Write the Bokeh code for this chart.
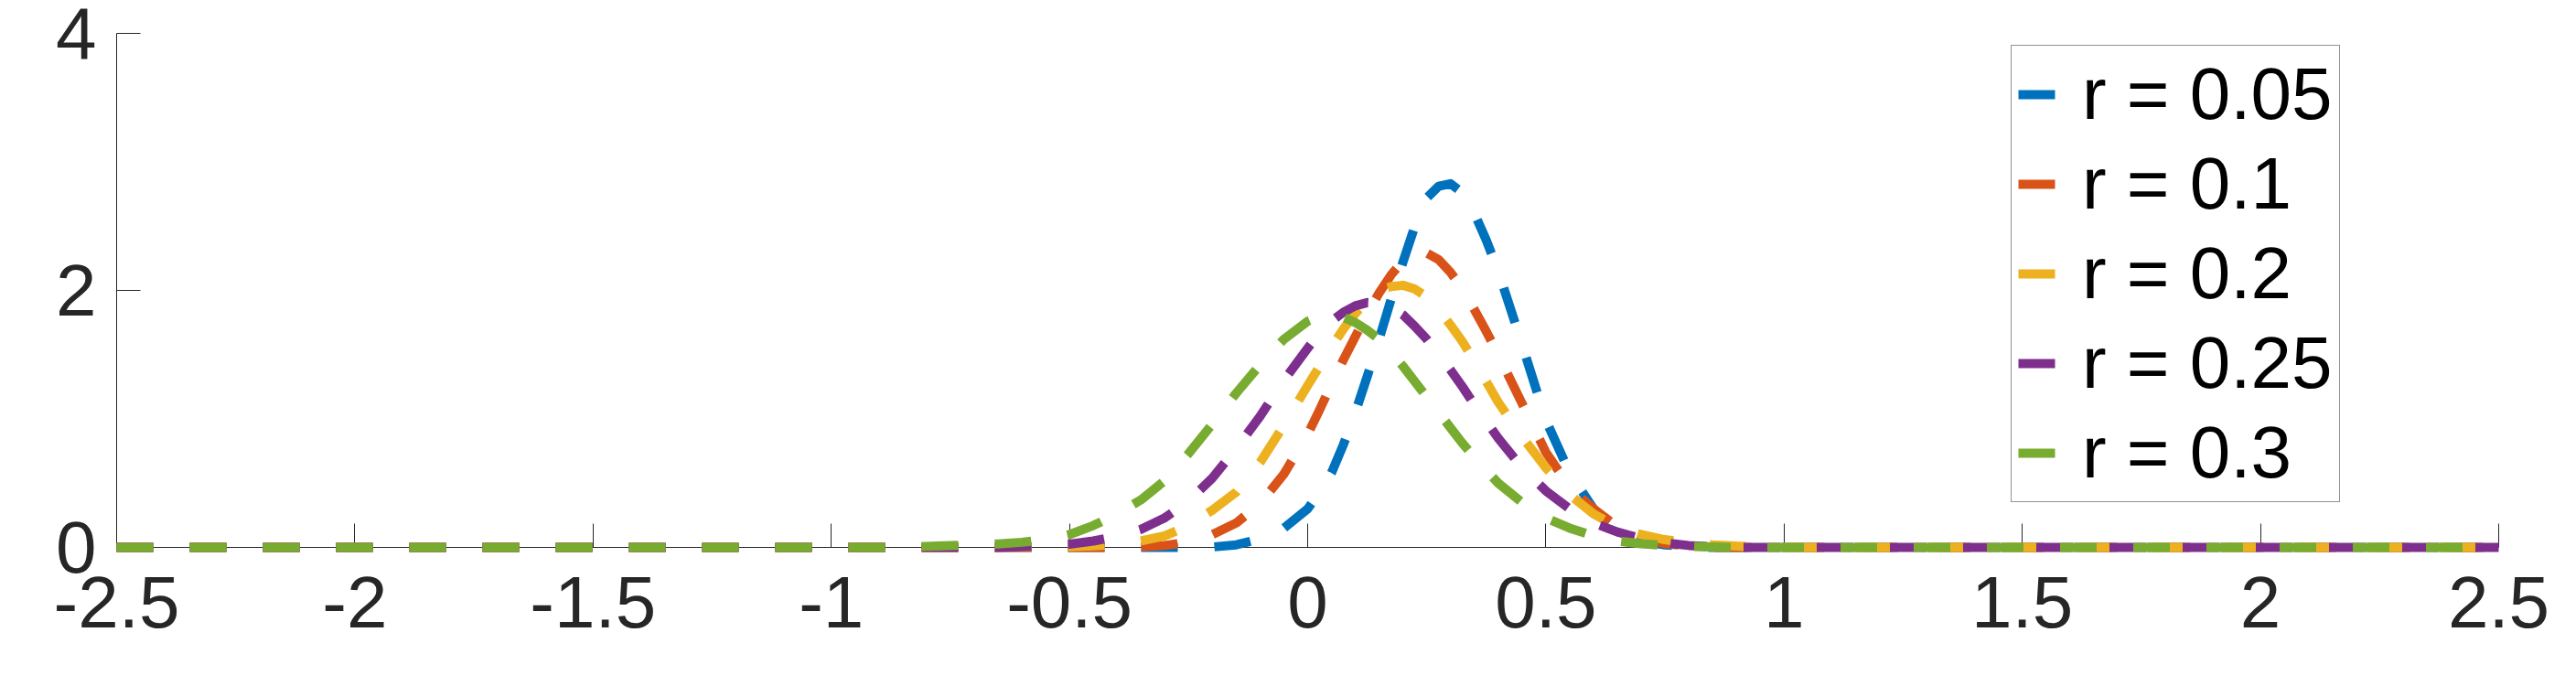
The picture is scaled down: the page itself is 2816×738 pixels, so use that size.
from bokeh.plotting import figure
from bokeh.models import Range1d, FixedTicker, Legend, LegendItem
from bokeh.embed import file_html
from bokeh.resources import INLINE

# ---- data ----
x_vals = [-2.5, -0.85, -0.80, -0.75, -0.70, -0.65, -0.60, -0.55, -0.50, -0.45,
          -0.40, -0.35, -0.30, -0.25, -0.20, -0.15, -0.10, -0.05, 0.00, 0.025,
          0.05, 0.075, 0.10, 0.125, 0.15, 0.175, 0.20, 0.225, 0.25, 0.275,
          0.30, 0.325, 0.35, 0.375, 0.40, 0.45, 0.50, 0.55, 0.60, 0.65,
          0.70, 0.75, 0.80, 0.85, 0.90, 0.95, 1.00, 2.5]

r005 = [0, 0, 0, 0, 0, 0, 0, 0, 0, 0,
        0, 0, 0, 0.0, 0.003, 0.02, 0.065, 0.15, 0.30, 0.43,
        0.58, 0.80, 1.05, 1.33, 1.62, 1.93, 2.22, 2.50, 2.72, 2.81,
        2.83, 2.76, 2.60, 2.39, 2.15, 1.58, 0.99, 0.58, 0.30, 0.13,
        0.05, 0.02, 0.005, 0, 0, 0, 0, 0]

r010 = [0, 0, 0, 0, 0, 0, 0, 0, 0, 0,
        0.0, 0.005, 0.015, 0.04, 0.10, 0.19, 0.34, 0.57, 0.88, 1.07,
        1.27, 1.46, 1.64, 1.82, 1.98, 2.12, 2.23, 2.28, 2.29, 2.24,
        2.14, 2.01, 1.85, 1.68, 1.50, 1.12, 0.74, 0.47, 0.30, 0.16,
        0.07, 0.03, 0.01, 0.0, 0, 0, 0, 0]

r020 = [0, 0, 0, 0, 0, 0, 0, 0.0, 0.005, 0.012,
        0.025, 0.05, 0.09, 0.17, 0.29, 0.43, 0.66, 0.95, 1.26, 1.41,
        1.56, 1.70, 1.82, 1.92, 2.00, 2.03, 2.04, 2.01, 1.95, 1.85,
        1.73, 1.60, 1.45, 1.29, 1.13, 0.86, 0.62, 0.41, 0.26, 0.16,
        0.10, 0.06, 0.035, 0.02, 0.01, 0.005, 0.0, 0]

r025 = [0, 0, 0, 0, 0, 0.0, 0.005, 0.012, 0.025, 0.05,
        0.085, 0.14, 0.23, 0.36, 0.54, 0.77, 1.02, 1.30, 1.55, 1.67,
        1.76, 1.83, 1.88, 1.905, 1.90, 1.87, 1.81, 1.72, 1.62, 1.50,
        1.38, 1.25, 1.11, 0.98, 0.85, 0.62, 0.44, 0.30, 0.19, 0.12,
        0.07, 0.035, 0.015, 0.005, 0.0, 0, 0, 0]

r030 = [0, 0.0, 0.008, 0.015, 0.02, 0.027, 0.04, 0.06, 0.10, 0.17,
        0.26, 0.37, 0.52, 0.73, 0.96, 1.20, 1.42, 1.62, 1.76, 1.80,
        1.81, 1.79, 1.75, 1.69, 1.62, 1.52, 1.41, 1.29, 1.17, 1.05,
        0.93, 0.81, 0.70, 0.60, 0.50, 0.35, 0.23, 0.15, 0.09, 0.05,
        0.028, 0.015, 0.008, 0.003, 0.0, 0, 0, 0]

series = [r005, r010, r020, r025, r030]
labels = ["r = 0.05", "r = 0.1", "r = 0.2", "r = 0.25", "r = 0.3"]
colors = ["#0072BD", "#D95319", "#EDB120", "#7E2F8E", "#77AC30"]

x_ticks = [-2.5, -2.0, -1.5, -1.0, -0.5, 0.0, 0.5, 1.0, 1.5, 2.0, 2.5]
x_tick_labels = ["-2.5", "-2", "-1.5", "-1", "-0.5", "0", "0.5", "1", "1.5", "2", "2.5"]
y_ticks = [0, 2, 4]
y_tick_labels = ["0", "2", "4"]

FONT = "Liberation Sans"
AX = "#262626"

p = figure(width=2816, height=738, output_backend="svg", toolbar_location=None,
           x_range=Range1d(-2.5, 2.5), y_range=Range1d(0, 4),
           min_border_left=127, min_border_right=85,
           min_border_top=36, min_border_bottom=140)

p.xgrid.visible = False
p.ygrid.visible = False
p.outline_line_color = None
p.background_fill_color = "white"
p.border_fill_color = "white"

for ax, ticks, labs, standoff in ((p.xaxis[0], x_ticks, x_tick_labels, 32),
                                   (p.yaxis[0], y_ticks, y_tick_labels, 22)):
    ax.ticker = FixedTicker(ticks=ticks)
    ax.major_label_overrides = {t: l for t, l in zip(ticks, labs)}
    ax.axis_line_color = AX
    ax.axis_line_width = 1
    ax.major_tick_line_color = AX
    ax.major_tick_line_width = 1
    ax.major_tick_in = 26
    ax.major_tick_out = 0
    ax.minor_tick_line_color = None
    ax.major_label_text_font = FONT
    ax.major_label_text_font_size = "80px"
    ax.major_label_text_color = AX
    ax.major_label_standoff = standoff

items = []
for ys, lab, col in zip(series, labels, colors):
    r = p.line(x_vals, ys, line_color=col, line_width=10, line_dash="40 40",
               line_join="round", level="annotation")
    items.append(LegendItem(label=lab, renderers=[r]))

legend = Legend(items=items, location=(2071, 49), margin=0,
                padding=7, spacing=6, label_height=90, glyph_height=90,
                glyph_width=41, label_standoff=29,
                label_text_font=FONT, label_text_font_size="80px",
                label_text_color="black",
                border_line_color=AX, border_line_width=1,
                background_fill_color="white", background_fill_alpha=1.0)
p.add_layout(legend)

open("out.html", "w").write(file_html(p, INLINE))
